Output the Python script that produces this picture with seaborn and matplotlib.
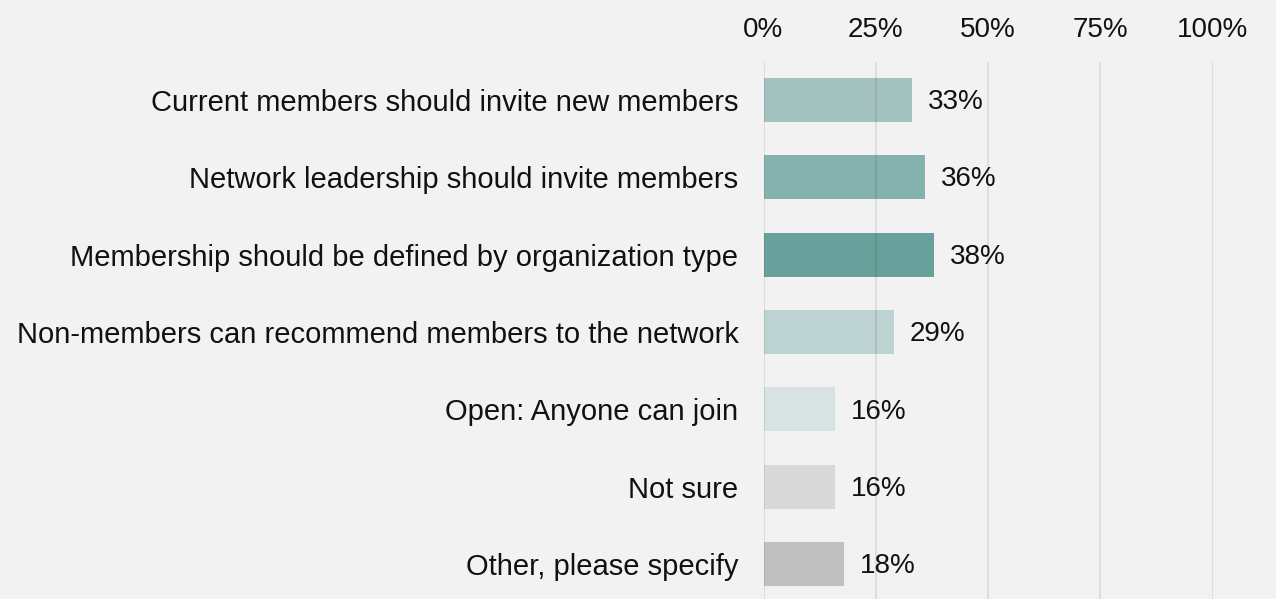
import matplotlib
matplotlib.use("Agg")
import matplotlib.pyplot as plt
import seaborn as sns
import pandas as pd

categories = [
    "Current members should invite new members",
    "Network leadership should invite members",
    "Membership should be defined by organization type",
    "Non-members can recommend members to the network",
    "Open: Anyone can join",
    "Not sure",
    "Other, please specify",
]
shares = [33, 36, 38, 29, 16, 16, 18]
bar_colors = ["#a2c1bf", "#86b2ae", "#68a19b", "#bcd3d1", "#d6e3e2", "#d9d9d9", "#c0c0c0"]
x_ticks = [0, 25, 50, 75, 100]
x_tick_labels = ["0%", "25%", "50%", "75%", "100%"]

df = pd.DataFrame({"category": categories, "share": shares})

sns.set_theme(style="white")
plt.rcParams["font.family"] = ["Liberation Sans", "DejaVu Sans"]

bg = "#f2f2f2"
fig = plt.figure(figsize=(12.76, 5.99), dpi=100, facecolor=bg)
ax = fig.add_axes([763.5 / 1276, 0.0, 449 / 1276, (599 - 62) / 599])
ax.set_facecolor(bg)

sns.barplot(data=df, y="category", x="share", hue="category",
            palette=bar_colors, orient="h", width=0.57, legend=False,
            saturation=1, linewidth=0, ax=ax)

# value labels just right of each bar
for i, v in enumerate(shares):
    ax.annotate(f"{v}%", xy=(v, i), xytext=(11.5, -1.5), textcoords="offset points",
                va="center", ha="left", fontsize=20, color="#111111")

ax.set_xlim(0, 100)
ax.set_ylim(6.45, -0.49)
ax.xaxis.tick_top()
ax.set_xticks(x_ticks)
ax.set_xticklabels(x_tick_labels)
ax.tick_params(axis="x", length=0, pad=14, labelsize=20, labelcolor="#111111")
ax.tick_params(axis="y", length=0, pad=18, labelsize=21, labelcolor="#111111")
ax.set_xlabel("")
ax.set_ylabel("")
ax.set_axisbelow(False)
ax.grid(axis="x", color="#000000", alpha=0.1, linewidth=1.2)
ax.grid(axis="y", visible=False)
for s in ax.spines.values():
    s.set_visible(False)

fig.savefig("out.png", dpi=100, facecolor=bg)
